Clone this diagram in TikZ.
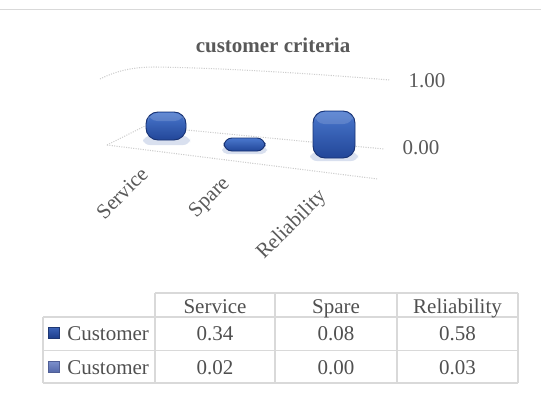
\documentclass[tikz,border=0pt]{standalone}
\usepackage{fontspec}
\setmainfont{Liberation Serif}
\begin{document}
\begin{tikzpicture}[x=0.75pt,y=0.75pt,yscale=-1,xscale=1,
  lbl/.style={inner sep=0.75pt, font=\fontsize{15.75}{19}\selectfont, text={rgb,255:red,89;green,89;blue,89}},
  cell/.style={lbl, anchor=base, text={rgb,255:red,80;green,80;blue,80}},
  gridline/.style={color={rgb,255:red,205;green,205;blue,205}, densely dotted, line width=0.8pt},
  tabline/.style={color={rgb,255:red,217;green,217;blue,217}, line width=1.3pt},
  barbox/.style={draw={rgb,255:red,24;green,50;blue,115}, line width=0.7pt, top color={rgb,255:red,74;green,120;blue,206}, bottom color={rgb,255:red,34;green,70;blue,152}},
  barshadow/.style={fill={rgb,255:red,160;green,178;blue,214}, opacity=0.4}
]
\useasboundingbox (0,0) rectangle (541,405);
% frame line at top
\draw [tabline] (0,9.5) -- (541,9.5) ;
\draw (273,45) node (title) [lbl, font=\fontsize{15.75}{19}\selectfont\bfseries] {customer criteria};
% walls and floor
\draw [gridline] (100,79) .. controls (118,70) and (135,67) .. (155,67) .. controls (230,68) and (330,75) .. (390,80) ;
\draw [gridline] (107,145) -- (145,126) -- (384,149) ;
\draw [gridline] (107,145) -- (378,179) ;
\draw (427,81) node (top) [lbl] {1.00};
\draw (421,148) node (zero) [lbl] {0.00};
% bars
\fill [barshadow, rounded corners=5] (143,136) rectangle (190,145) ;
\draw [barbox, rounded corners=9] (146,112) rectangle (186,140) ;
\fill [white, opacity=0.15, rounded corners=7] (148,113) rectangle (184,121) ;
\fill [barshadow, rounded corners=4] (222,146) rectangle (267,154) ;
\draw [barbox, rounded corners=6] (224,138) rectangle (265,151) ;
\fill [barshadow, rounded corners=5] (310,152) rectangle (358,161) ;
\draw [barbox, rounded corners=9] (313,111) rectangle (355,158) ;
\fill [white, opacity=0.15, rounded corners=7] (315,112) rectangle (353,124) ;
\draw (122,193) node (service) [lbl, rotate=45] {Service};
\draw (210,198) node (spare) [lbl, rotate=45] {Spare};
\draw (292,225) node (reliability) [lbl, rotate=45] {Reliability};
% data table
\draw [tabline] (155,293) -- (518,293) ;
\draw [tabline] (43,317) -- (518,317) ;
\draw [tabline] (43,350.5) -- (518,350.5) ;
\draw [tabline] (43,383) -- (518,383) ;
\draw [tabline] (43,317) -- (43,383) ;
\draw [tabline] (155,293) -- (155,383) ;
\draw [tabline] (275,293) -- (275,383) ;
\draw [tabline] (397,293) -- (397,383) ;
\draw [tabline] (518,293) -- (518,383) ;
\draw (215,313) node (hservice) [cell] {Service};
\draw (336,313) node (hspare) [cell] {Spare};
\draw (457.5,313) node (hreliability) [cell] {Reliability};
\draw [draw={rgb,255:red,30;green,55;blue,115}, top color={rgb,255:red,60;green,100;blue,185}, bottom color={rgb,255:red,30;green,62;blue,140}] (48,327) rectangle (59,338) ;
\draw (66,340) node (cust1) [cell, anchor=base west] {Customer};
\draw (215,340) node (s1) [cell] {0.34};
\draw (336,340) node (p1) [cell] {0.08};
\draw (457.5,340) node (r1) [cell] {0.58};
\draw [draw={rgb,255:red,80;green,95;blue,150}, top color={rgb,255:red,125;green,145;blue,205}, bottom color={rgb,255:red,85;green,105;blue,170}] (48,361) rectangle (59,372) ;
\draw (66,374) node (cust2) [cell, anchor=base west] {Customer};
\draw (215,374) node (s2) [cell] {0.02};
\draw (336,374) node (p2) [cell] {0.00};
\draw (457.5,374) node (r2) [cell] {0.03};
\end{tikzpicture}
\end{document}
